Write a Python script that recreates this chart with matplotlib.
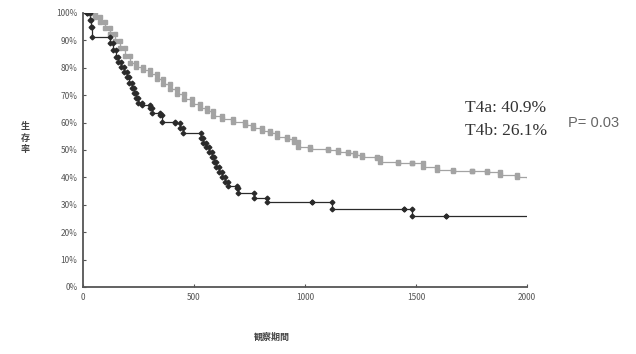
import numpy as np
import matplotlib.pyplot as plt

plt.rcParams['font.family'] = ['Noto Sans CJK JP', 'DejaVu Sans']

# T4a (gray) survival curve: days, survival (%)
t4a_days = [0, 32, 54, 77, 99, 122, 144, 167, 189, 212, 238, 270, 302, 333, 360,
            392, 423, 455, 491, 527, 558, 585, 626, 675, 729, 765, 806, 842, 873,
            918, 950, 968, 1022, 1103, 1148, 1193, 1224, 1256, 1323, 1337, 1418,
            1481, 1530, 1593, 1665, 1751, 1818, 1877, 1953, 2000]
t4a_surv = [100, 100, 98.5, 96.7, 94.5, 92.3, 89.8, 87.2, 84.3, 81.8, 80.3, 79.2,
            77.7, 75.9, 74.1, 72.3, 70.4, 68.6, 66.8, 65.3, 64.2, 62.4, 61.3, 60.2,
            59.1, 58.0, 56.9, 56.2, 54.7, 54.0, 52.9, 51.1, 50.4, 50.0, 49.3, 48.9,
            48.2, 47.4, 47.1, 45.6, 45.3, 45.3, 43.8, 42.7, 42.3, 42.3, 42.0, 40.9,
            40.1, 39.8]

# T4b (black) survival curve: days, survival (%)
t4b_days = [0, 20, 31, 36, 40, 121, 135, 148, 157, 171, 184, 198, 207, 220, 229,
            238, 247, 265, 301, 310, 346, 355, 414, 436, 450, 531, 540, 553, 567,
            580, 589, 598, 612, 625, 639, 652, 693, 697, 769, 828, 1030, 1120,
            1445, 1480, 1634, 2000]
t4b_surv = [100, 100, 97.4, 94.9, 91.2, 89.1, 86.5, 83.9, 82.1, 80.3, 78.5, 76.6,
            74.5, 72.6, 70.8, 69.0, 67.2, 66.4, 65.3, 63.5, 62.8, 60.2, 59.9, 58.0,
            56.2, 54.4, 52.6, 51.1, 49.3, 47.4, 45.6, 43.8, 42.0, 40.1, 38.3, 36.9,
            36.1, 34.3, 32.5, 31.0, 31.0, 28.5, 28.5, 25.9, 25.9, 25.9]

y_ticks = np.arange(0, 101, 10)
x_ticks = [0, 500, 1000, 1500, 2000]

fig = plt.figure(figsize=(6.36, 3.54), dpi=100)
ax = fig.add_axes([0.1305, 0.1893, 0.6981, 0.774])


def draw_curve(days, surv, color, marker, ms):
    days = np.array(days)
    surv = np.array(surv)
    ax.plot(days, surv, drawstyle='steps-post', color=color, lw=0.9, zorder=2)
    prev = np.concatenate([[surv[0]], surv[:-1]])
    # marks at both corners of each step, last point has no mark
    ax.plot(days[1:-1], prev[1:-1], ls='none', marker=marker, ms=ms,
            color=color, zorder=3)
    ax.plot(days[1:-1], surv[1:-1], ls='none', marker=marker, ms=ms,
            color=color, zorder=3)


draw_curve(t4a_days, t4a_surv, '#a3a3a3', 's', 2.4)
draw_curve(t4b_days, t4b_surv, '#2a2a2a', 'D', 2.4)

ax.set_xlim(0, 2000)
ax.set_ylim(0, 100)
ax.set_xticks(x_ticks)
ax.set_yticks(y_ticks)
ax.set_yticklabels([f'{v}%' for v in y_ticks])
ax.tick_params(direction='in', length=2.5, width=0.8, labelsize=6,
               colors='#555555', pad=4)
for side in ['top', 'right']:
    ax.spines[side].set_visible(False)
for side in ['left', 'bottom']:
    ax.spines[side].set_color('#555555')
    ax.spines[side].set_linewidth(1.3)

fig.text(0.04, 0.61, '\n'.join('生存率'), fontsize=6.5, fontweight='bold',
         color='#444444', ha='center', va='center', linespacing=1.3)
fig.text(0.428, 0.048, '観察期間', fontsize=6.5, fontweight='bold',
         color='#444444', ha='center', va='center')

fig.text(0.731, 0.695, 'T4a: 40.9%', fontsize=12.5, family='Liberation Serif',
         color='#333333', va='center')
fig.text(0.731, 0.630, 'T4b: 26.1%', fontsize=12.5, family='Liberation Serif',
         color='#333333', va='center')
fig.text(0.893, 0.652, 'P= 0.03', fontsize=10.5, family='Liberation Sans',
         color='#666666', va='center')

fig.savefig('out.png', dpi=100, facecolor='white')
